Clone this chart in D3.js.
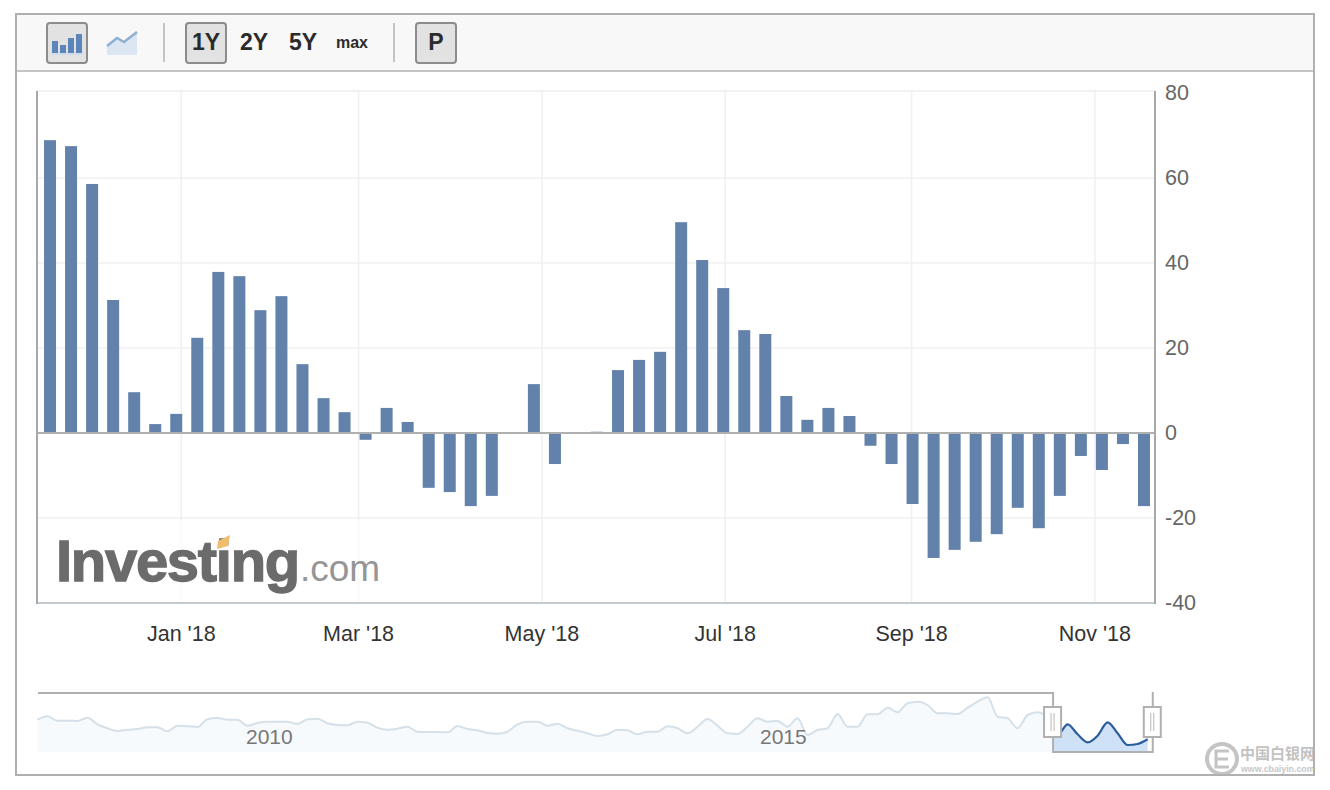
<!DOCTYPE html>
<html lang="en">

<head>
  <meta charset="UTF-8">
  <title>Investing.com chart</title>
  <script src="https://cdn.jsdelivr.net/npm/d3@7"></script>
  <style>
    body { margin: 0; background: #fff; }
    svg { display: block; font-family: "Liberation Sans", Arial, sans-serif; }
    .grid line { stroke: #f0f0f0; stroke-width: 1.5px; }
    .grid path { display: none; }
    .x-axis path, .y-axis path { display: none; }
    .x-axis line, .y-axis line { display: none; }
    .x-axis text { font-size: 21.5px; fill: #333; }
    .y-axis text { font-size: 21.5px; fill: #666; }
    .btn { fill: #e2e2e2; stroke: #8c8c8c; stroke-width: 2px; }
    .btn-text { font-weight: bold; fill: #2b2b2b; text-anchor: middle; }
  </style>
</head>

<body>
  <svg id="chart" width="1330" height="790"></svg>
  <script>
    // weekly readings
    var dates = ["2017-11-18", "2017-11-25", "2017-12-02", "2017-12-09", "2017-12-16", "2017-12-23", "2017-12-30",
      "2018-01-06", "2018-01-13", "2018-01-20", "2018-01-27", "2018-02-03", "2018-02-10", "2018-02-17", "2018-02-24",
      "2018-03-03", "2018-03-10", "2018-03-17", "2018-03-24", "2018-03-31", "2018-04-07", "2018-04-14", "2018-04-21",
      "2018-04-28", "2018-05-05", "2018-05-12", "2018-05-19", "2018-05-26", "2018-06-02", "2018-06-09", "2018-06-16",
      "2018-06-23", "2018-06-30", "2018-07-07", "2018-07-14", "2018-07-21", "2018-07-28", "2018-08-04", "2018-08-11",
      "2018-08-18", "2018-08-25", "2018-09-01", "2018-09-08", "2018-09-15", "2018-09-22", "2018-09-29", "2018-10-06",
      "2018-10-13", "2018-10-20", "2018-10-27", "2018-11-03", "2018-11-10", "2018-11-17"];
    var values = [68.9, 67.5, 58.6, 31.3, 9.6, 2.1, 4.5, 22.4, 37.9, 36.9, 28.9, 32.2, 16.2, 8.2, 4.9,
      -1.6, 5.9, 2.6, -12.9, -13.9, -17.2, -14.8, 0, 11.5, -7.3, 0, 0.3, 14.8, 17.2, 19.1, 49.6,
      40.7, 34.1, 24.2, 23.3, 8.7, 3.1, 5.9, 4, -3, -7.3, -16.7, -29.4, -27.5, -25.6, -23.8,
      -17.6, -22.4, -14.8, -5.4, -8.7, -2.6, -17.2];
    var xTicks = ["2018-01-01", "2018-03-01", "2018-05-01", "2018-07-01", "2018-09-01", "2018-11-01"];
    var yTicks = [-40, -20, 0, 20, 40, 60, 80];

    var navValues = [32.3, 35.7, 31.3, 31.3, 31, 34.3, 27.7, 23.7, 21, 22.3,
      23, 24.7, 24.7, 20.7, 26.3, 25.7, 25, 32.7, 34, 32.3,
      32.3, 26.3, 29, 30.3, 30.3, 30.3, 28, 32.7, 33.3, 28.7,
      27, 26.7, 30.3, 29.3, 24.3, 22.3, 23.3, 25.3, 20.3, 20,
      20, 19.7, 26, 23, 21.7, 19, 18.3, 20.3, 27.7, 30.3,
      30.3, 26.3, 28.3, 23.7, 21.3, 18.7, 16, 17.7, 22.3, 21.7,
      17.7, 20.3, 20.3, 25.7, 23.7, 18.7, 25.3, 33, 26.3, 18.7,
      18, 25.3, 33.7, 30.3, 31, 25.3, 33.7, 17, 22, 23.7,
      38, 25.3, 25.3, 37.7, 37.7, 44.3, 39.7, 48.7, 50.3, 47,
      38.7, 38.7, 38, 44.3, 50.3, 54.7, 35.3, 33.7, 23.7, 37,
      39.7, 33.7, 17, 27.7, 17.7, 9.7, 16.3, 29.7, 18.7, 7,
      8, 12.7];
    var navYearTicks = [2010, 2015];
    var navWindow = [2017.88, 2018.85];

    var rangeButtons = [["1Y", 206, 23, true], ["2Y", 254, 23, false], ["5Y", 303, 23, false], ["max", 352, 16, false]];

    var svg = d3.select("#chart");
    var parse = d3.utcParse("%Y-%m-%d");

    var x = d3.scaleUtc()
      .domain([parse("2017-11-14"), parse("2018-11-21")])
      .range([37, 1155]);
    var y = d3.scaleLinear().domain([-40, 80]).range([603, 93]);

    // outer frame + toolbar
    svg.append("rect").attr("x", 16).attr("y", 14).attr("width", 1298).attr("height", 57).attr("fill", "#f8f8f8");
    svg.append("line").attr("x1", 16).attr("x2", 1314).attr("y1", 71).attr("y2", 71)
      .attr("stroke", "#c4c4c4").attr("stroke-width", 2);

    svg.append("rect").attr("class", "btn").attr("x", 47).attr("y", 23).attr("width", 40).attr("height", 40).attr("rx", 3);
    svg.append("rect").attr("x", 51).attr("y", 52).attr("width", 32).attr("height", 3).attr("fill", "#cfdcea");
    var barIcon = svg.append("g").attr("fill", "#5c86ba");
    [[52, 41], [60, 45], [68, 38], [76, 34]].forEach(function (b) {
      barIcon.append("rect").attr("x", b[0]).attr("y", b[1]).attr("width", 6).attr("height", 53 - b[1]);
    });
    svg.append("path").attr("d", "M107,46L117,38L124,42L137,32V55H107Z").attr("fill", "#dbe6f2");
    svg.append("path").attr("d", "M107,46L117,38L124,42L137,32").attr("fill", "none")
      .attr("stroke", "#8fb0d2").attr("stroke-width", 2.5);

    [164, 394].forEach(function (sx) {
      svg.append("line").attr("x1", sx).attr("x2", sx).attr("y1", 23).attr("y2", 62)
        .attr("stroke", "#c4c4c4").attr("stroke-width", 2);
    });

    rangeButtons.forEach(function (b) {
      if (b[3]) {
        svg.append("rect").attr("class", "btn").attr("x", b[1] - 20).attr("y", 23)
          .attr("width", 40).attr("height", 40).attr("rx", 3);
      }
      svg.append("text").attr("class", "btn-text").attr("x", b[1]).attr("y", b[2] == 16 ? 48 : 50)
        .attr("font-size", b[2]).text(b[0]);
    });
    svg.append("rect").attr("class", "btn").attr("x", 416).attr("y", 23).attr("width", 40).attr("height", 40).attr("rx", 3);
    svg.append("text").attr("class", "btn-text").attr("x", 436).attr("y", 50).attr("font-size", 23).text("P");

    // grid, the 80 line is replaced by the plot's top edge
    svg.append("g").attr("class", "grid")
      .attr("transform", "translate(1155,0)")
      .call(d3.axisLeft(y).tickValues(yTicks.slice(0, -1)).tickSize(1118).tickFormat("").offset(0));
    svg.append("g").attr("class", "grid")
      .attr("transform", "translate(0,603)")
      .call(d3.axisTop(x).tickValues(xTicks.map(parse)).tickSize(512).tickFormat("").offset(0));
    svg.append("line").attr("x1", 37).attr("x2", 1155).attr("y1", 91).attr("y2", 91)
      .attr("stroke", "#eeeeee").attr("stroke-width", 1.5);

    // logo sits on a white veil which fades the grid
    svg.append("rect").attr("x", 38).attr("y", 520).attr("width", 362).attr("height", 82)
      .attr("fill", "#fff").attr("opacity", 0.6);
    svg.append("text").attr("x", 56).attr("y", 581).attr("font-size", 58).attr("font-weight", "bold")
      .attr("letter-spacing", -1.3).attr("fill", "#6b6b6b").attr("stroke", "#6b6b6b").attr("stroke-width", 1.3)
      .text("Investing");
    svg.append("text").attr("x", 300).attr("y", 581).attr("font-size", 37).attr("fill", "#959595").text(".com");
    svg.append("path").attr("d", "M218,541L230,535L228,546L217,549Z").attr("fill", "#efbd6b");

    // bars
    svg.selectAll(".bar")
      .data(values)
      .enter()
      .append("rect")
      .attr("class", "bar")
      .attr("x", function (d, i) { return x(parse(dates[i])) - 5; })
      .attr("y", function (d) { return y(Math.max(d, 0)); })
      .attr("width", 12)
      .attr("height", function (d) { return Math.abs(y(d) - y(0)); })
      .attr("fill", "#6282ab");

    // zero line and plot borders
    svg.append("line").attr("x1", 37).attr("x2", 1155).attr("y1", y(0)).attr("y2", y(0))
      .attr("stroke", "#b0b0b0").attr("stroke-width", 2);
    svg.append("line").attr("x1", 37).attr("x2", 1155).attr("y1", 603).attr("y2", 603)
      .attr("stroke", "#c3cbd0").attr("stroke-width", 2);
    [37, 1155].forEach(function (bx) {
      svg.append("line").attr("x1", bx).attr("x2", bx).attr("y1", 91).attr("y2", 604)
        .attr("stroke", "#a8a8a8").attr("stroke-width", 2);
    });

    // axes
    svg.append("g").attr("class", "x-axis")
      .attr("transform", "translate(-0.5,603)")
      .call(d3.axisBottom(x).tickValues(xTicks.map(parse)).tickFormat(d3.utcFormat("%b '%y")).tickSize(0).tickPadding(23));
    svg.append("g").attr("class", "y-axis")
      .attr("transform", "translate(1155,0)")
      .call(d3.axisRight(y).tickValues(yTicks).tickFormat(function (d) { return String(d); }).tickSize(0).tickPadding(10))
      .selectAll("text").attr("dy", "0.32em");

    // navigator
    var navYear = d3.scaleLinear().domain([2010, 2015]).range([243, 757]);
    var navX = d3.scaleLinear().domain([0, navValues.length - 1]).range([navYear(2008), navYear(2018.8)]);
    var navY = d3.scaleLinear().domain([0, 57]).range([752, 695]);
    var navArea = d3.area().x(function (d, i) { return navX(i); }).y0(navY(0)).y1(function (d) { return navY(d); })
      .curve(d3.curveMonotoneX);
    var navLine = d3.line().x(function (d, i) { return navX(i); }).y(function (d) { return navY(d); })
      .curve(d3.curveMonotoneX);
    var winL = navYear(navWindow[0]), winR = navYear(navWindow[1]);

    svg.append("clipPath").attr("id", "outside").append("rect")
      .attr("x", 30).attr("y", 680).attr("width", winL - 30).attr("height", 80);
    svg.append("clipPath").attr("id", "inside").append("rect")
      .attr("x", winL).attr("y", 680).attr("width", winR - winL).attr("height", 80);

    svg.append("path").datum(navValues).attr("d", navArea).attr("fill", "#f7fafd").attr("clip-path", "url(#outside)");
    svg.append("path").datum(navValues).attr("d", navLine).attr("fill", "none").attr("stroke", "#d5e0e8")
      .attr("stroke-width", 2).attr("clip-path", "url(#outside)");
    svg.append("path").datum(navValues).attr("d", navArea).attr("fill", "#cfe1f6").attr("clip-path", "url(#inside)");
    svg.append("path").datum(navValues).attr("d", navLine).attr("fill", "none").attr("stroke", "#2a5d9b")
      .attr("stroke-width", 2.2).attr("clip-path", "url(#inside)");

    svg.selectAll(".nav-year")
      .data(navYearTicks)
      .enter()
      .append("text")
      .attr("class", "nav-year")
      .attr("x", function (d) { return navYear(d) + 3; })
      .attr("y", 744)
      .attr("font-size", 21)
      .attr("fill", "#777")
      .text(function (d) { return d; });

    svg.append("path")
      .attr("d", "M38,693H" + winL + "V752H" + winR + "V692")
      .attr("fill", "none").attr("stroke", "#b0b0b0").attr("stroke-width", 2);

    [winL, winR].forEach(function (hx) {
      svg.append("rect").attr("x", hx - 9).attr("y", 707).attr("width", 17).attr("height", 30)
        .attr("fill", "#fff").attr("stroke", "#b0b0b0").attr("stroke-width", 2);
      [-2, 1].forEach(function (off) {
        svg.append("line").attr("x1", hx + off).attr("x2", hx + off).attr("y1", 713).attr("y2", 731)
          .attr("stroke", "#b8b8b8").attr("stroke-width", 1);
      });
    });

    // site stamp in the corner
    svg.append("circle").attr("cx", 1222).attr("cy", 759).attr("r", 15)
      .attr("fill", "none").attr("stroke", "#c4c4c4").attr("stroke-width", 4);
    svg.append("path").attr("d", "M1229,751H1216V767H1229M1216,759H1228").attr("fill", "none")
      .attr("stroke", "#c4c4c4").attr("stroke-width", 3);
    svg.append("text").attr("x", 1240).attr("y", 759).attr("font-size", 15).attr("font-weight", "bold")
      .attr("font-family", "Noto Sans CJK SC").attr("fill", "#c2c2c2").text("中国白银网");
    svg.append("text").attr("x", 1241).attr("y", 772).attr("font-size", 8.8).attr("font-weight", "bold")
      .attr("fill", "#c8c8c8").text("www.cbaiyin.com");

    // frame drawn last so the stamp is cut at its edge
    svg.append("rect").attr("x", 1315).attr("y", 730).attr("width", 15).attr("height", 50).attr("fill", "#fff");
    svg.append("rect").attr("x", 16).attr("y", 14).attr("width", 1298).attr("height", 761)
      .attr("fill", "none").attr("stroke", "#b0b0b0").attr("stroke-width", 2);
  </script>
</body>

</html>
